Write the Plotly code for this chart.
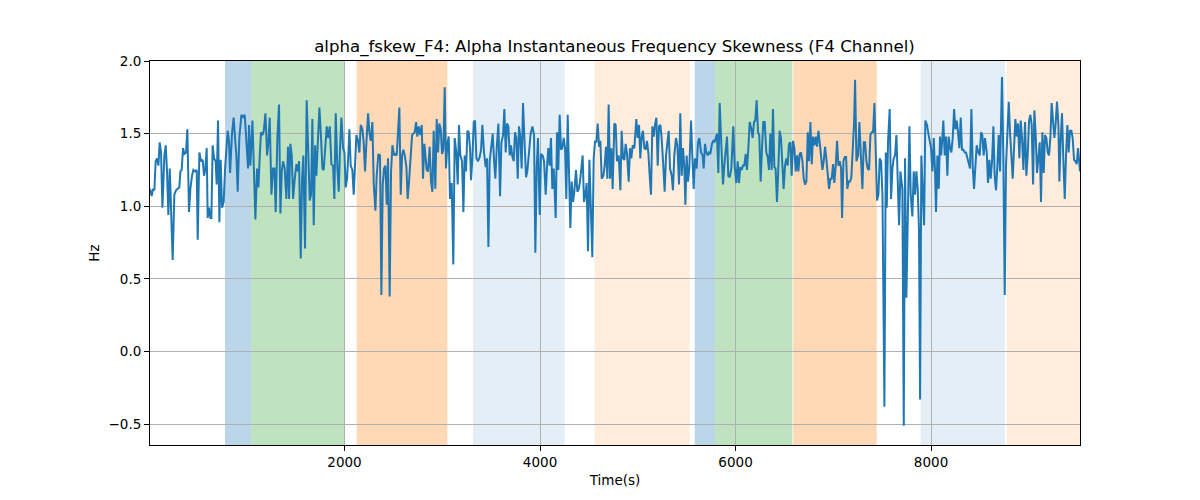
import plotly.graph_objects as go

# ---- data: (time in s, alpha instantaneous frequency skewness in Hz) ----
seg1 = [(10,1.12),(27,1.07),(41,1.12),(55,1.11),(68,1.31),(82,1.33),(96,1.28),(109,1.44),(123,1.37),(137,0.99),
        (157,1.35),(171,1.42),(184,1.24),(198,0.94),(212,1.26),(225,1.01),(242,0.63),(259,1.08),(276,1.11),(293,1.12),
        (310,1.13),(321,1.24),(334,1.25),(348,1.40),(362,1.36),(379,1.37),(392,1.53),(409,0.96),(423,1.12),(440,1.21),
        (454,1.25),(471,1.24),(488,1.25),(498,0.77),(515,1.37),(532,1.31),(549,1.32),(563,1.21),(576,1.26),(590,1.40),
        (600,0.92),(614,0.99),(628,0.92),(638,0.92),(651,1.42),(665,1.33),(682,1.31),(692,1.15),(706,1.59),(720,0.89),
        (733,1.32),(747,0.99),(764,1.03),(778,1.26),(791,1.42),(805,1.52),(819,1.44),(829,1.23),(849,1.50),(866,1.61),
        (880,1.47),(894,1.35),(907,1.10),(924,1.47)]
seg2 = [(945,1.63),(962,1.61),(979,1.63),(996,1.47),(1013,1.26),(1023,1.56),(1037,1.28),(1058,1.59),(1071,1.28),(1088,0.91),
        (1105,1.26),(1119,1.13),(1133,1.35),(1146,1.51),(1160,1.49),(1174,1.52),(1191,1.64),(1208,1.35),(1221,1.44),(1235,1.61),
        (1252,1.08),(1269,1.26),(1283,1.26),(1296,0.96),(1313,1.47),(1330,1.70),(1344,0.95),(1358,1.24),(1371,1.31),(1388,1.26),
        (1405,1.05),(1422,1.41),(1433,1.05),(1446,1.43),(1460,1.35),(1474,1.05),(1491,1.19),(1508,1.29),(1521,1.24),(1535,1.31),
        (1552,0.64),(1566,1.19),(1579,1.35),(1596,0.71),(1613,1.73),(1627,1.35),(1644,1.04),(1658,1.08),(1671,1.60),(1685,0.87),
        (1699,1.42),(1712,1.21),(1726,1.42),(1743,1.68),(1760,1.47),(1774,1.26),(1787,1.25),(1801,1.40),(1818,1.55),(1832,1.47),
        (1849,1.55),(1866,1.29),(1883,1.28)]
seg3 = [(1896,1.05),(1910,1.64),(1927,1.26),(1941,1.10),(1954,1.40),(1968,1.61),(1985,1.40),(1999,1.37),(2012,1.13),(2026,1.19),
        (2040,1.37),(2050,1.53),(2063,1.28),(2080,1.25),(2094,1.08),(2108,1.35),(2121,1.49),(2138,1.45),(2152,1.37),(2166,1.56),
        (2183,1.53),(2196,1.44),(2210,1.24),(2224,1.44),(2241,1.64),(2254,1.51),(2268,1.45),(2285,1.58),(2299,1.15),(2316,0.97),
        (2329,1.21),(2346,1.36),(2363,1.35),(2377,0.39),(2391,1.15),(2404,1.26),(2418,1.28),(2432,1.01),(2445,1.33),(2462,0.38),
        (2476,1.24),(2490,1.42),(2507,1.35),(2520,1.36),(2534,1.35),(2548,1.52),(2561,1.68),(2575,1.08),(2589,1.35),(2602,1.39),
        (2616,1.35),(2633,1.27),(2646,1.05),(2660,1.17),(2674,1.31),(2691,1.49),(2704,1.50),(2718,1.51),(2732,1.58),(2745,1.48),
        (2759,1.55),(2776,1.49),(2790,1.56),(2803,1.19),(2817,1.43)]
seg4 = [(2827,1.35),(2841,1.25),(2854,1.24),(2871,1.41),(2885,1.17),(2899,1.10),(2912,1.52),(2929,1.12),(2943,1.60),(2957,1.37),
        (2970,1.57),(2984,1.53),(2998,1.36),(3011,1.39),(3025,1.82),(3038,1.26),(3052,1.43),(3066,1.48),(3079,1.05),(3096,1.16),
        (3113,0.60),(3127,1.47),(3144,1.37),(3158,1.15),(3171,1.56),(3185,1.35),(3202,1.31),(3216,0.96),(3229,1.35),(3243,1.24),
        (3257,1.52),(3270,1.51),(3284,1.40),(3294,1.18),(3308,1.33),(3322,1.58),(3335,1.59),(3349,1.33),(3366,1.31),(3383,1.34),
        (3397,1.39),(3410,1.56),(3427,1.37),(3444,1.27),(3458,1.33),(3472,0.72),(3485,1.31),(3502,1.40),(3516,1.50),(3530,1.31),
        (3543,1.19),(3557,1.40),(3574,1.57),(3591,1.07),(3605,1.44),(3622,1.49),(3635,1.67),(3649,1.37),(3663,1.57),(3676,1.55),
        (3690,1.35),(3703,1.42),(3717,1.34),(3731,1.31),(3744,1.51),(3758,1.47),(3772,1.19)]
seg5 = [(3785,1.55),(3799,1.47),(3812,1.26),(3826,1.71),(3840,1.47),(3857,1.20),(3870,1.24),(3887,1.37),(3904,1.50),(3922,1.55),
        (3939,1.49),(3952,0.68),(3966,1.26),(3979,1.47),(3997,0.94),(4010,1.36),(4027,1.35),(4041,1.31),(4058,1.08),(4072,1.28),
        (4085,1.40),(4099,1.28),(4112,1.47),(4126,1.12),(4140,1.26),(4150,1.10),(4160,0.92),(4174,1.51),(4187,1.25),(4201,1.63),
        (4215,1.39),(4228,1.40),(4242,1.47),(4256,1.40),(4269,1.05),(4283,1.63),(4297,1.17),(4310,0.85),(4324,1.17),(4338,1.03),
        (4351,1.10),(4368,1.25),(4382,1.10),(4396,1.12),(4409,1.17),(4423,1.26),(4436,1.35),(4450,1.03),(4464,1.08),(4477,1.16),
        (4491,0.69),(4505,1.32),(4518,1.01),(4535,0.65),(4549,1.33),(4563,1.45),(4576,1.44),(4590,1.57),(4604,1.41),(4617,1.45),
        (4631,1.19),(4648,1.21),(4661,1.28),(4675,1.41),(4689,1.19),(4702,1.70)]
seg6 = [(4716,1.19),(4730,1.40),(4743,1.12),(4760,1.57),(4774,1.56),(4787,1.31),(4805,1.35),(4822,1.11),(4835,1.52),(4849,1.33),
        (4863,1.32),(4876,1.43),(4890,1.36),(4907,1.17),(4920,1.40),(4934,1.33),(4948,1.42),(4965,1.40),(4985,1.60),(4999,1.47),
        (5013,1.56),(5026,1.33),(5040,1.48),(5053,1.52),(5067,1.40),(5081,1.39),(5094,1.45),(5108,1.37),(5122,1.21),(5135,1.08),
        (5149,1.55),(5163,1.48),(5176,1.56),(5190,1.61),(5204,1.28),(5217,1.55),(5231,1.56),(5244,1.47),(5261,1.28),(5275,1.10),
        (5289,1.35),(5302,1.42),(5316,1.52),(5330,1.26),(5347,1.21),(5360,1.11),(5374,1.35),(5391,1.47),(5405,1.42),(5422,1.15),
        (5435,1.64),(5449,1.21),(5463,1.40),(5476,1.27),(5487,1.01),(5500,1.35),(5514,1.17),(5527,1.26),(5545,1.59),(5558,1.35),
        (5572,1.12),(5585,1.33),(5602,1.26),(5616,1.44),(5630,1.47),(5647,1.37)]
seg7 = [(5664,1.35),(5674,1.26),(5688,1.43),(5701,1.37),(5715,1.35),(5728,1.37),(5742,1.36),(5759,1.43),(5773,1.45),(5786,1.44),
        (5797,1.48),(5810,1.50),(5824,1.23),(5838,1.71),(5855,1.42),(5872,1.15),(5885,1.28),(5899,1.40),(5913,1.48),(5926,1.21),
        (5940,1.20),(5957,1.26),(5977,1.55),(5991,1.28),(6008,1.16),(6022,1.31),(6035,1.16),(6049,1.27),(6063,1.25),(6076,1.28),
        (6090,1.28),(6104,1.36),(6117,1.25),(6131,1.40),(6145,1.58),(6162,1.53),(6175,1.47),(6189,1.58),(6202,1.59),(6216,1.73),
        (6230,1.51),(6243,1.49),(6257,1.17),(6271,1.40),(6284,1.58),(6298,1.58),(6315,1.37),(6329,1.34),(6342,1.25),(6356,1.50),
        (6370,1.25),(6383,1.67),(6397,1.27),(6410,1.26),(6424,1.03),(6438,1.26),(6451,1.52),(6465,1.47),(6479,1.24),(6492,1.12),
        (6506,1.28),(6520,1.33),(6533,1.28),(6547,1.43),(6561,1.44),(6574,1.21),(6588,1.45)]
seg8 = [(6602,1.40),(6616,1.24),(6630,1.35),(6643,1.24),(6657,1.36),(6670,1.37),(6684,1.31),(6698,1.19),(6711,1.15),(6725,1.17),
        (6739,1.51),(6752,1.31),(6766,1.58),(6780,1.29),(6793,1.48),(6807,1.42),(6821,1.48),(6834,1.41),(6848,1.52),(6861,1.44),
        (6875,1.33),(6889,1.25),(6902,1.31),(6916,1.41),(6930,1.32),(6943,1.19),(6957,1.12),(6971,1.19),(6984,1.19),(6998,1.29),
        (7011,1.16),(7025,1.28),(7039,1.45),(7052,1.28),(7066,1.31),(7080,1.26),(7090,0.92),(7104,1.31),(7117,1.34),(7131,1.34),
        (7144,1.12),(7158,1.17),(7172,1.17),(7185,1.20),(7199,1.35),(7213,1.58),(7223,1.87),(7237,1.31),(7254,1.35),(7267,1.58),
        (7281,1.37),(7298,1.12),(7312,1.44),(7325,1.44),(7339,1.31),(7352,1.26),(7366,1.25),(7380,1.49),(7393,1.51),(7407,1.51),
        (7421,1.71),(7434,1.28),(7448,1.04),(7462,1.08),(7475,1.33),(7489,1.31),(7503,1.08),(7523,-0.38),(7537,1.37)]
seg9 = [(7547,0.99),(7560,1.44),(7577,1.67),(7591,1.05),(7605,1.26),(7618,1.33),(7632,1.35),(7646,1.49),(7659,1.19),(7673,0.87),
        (7687,1.24),(7700,1.17),(7707,1.12),(7721,-0.51),(7734,1.33),(7748,0.37),(7762,1.01),(7779,1.55),(7792,1.08),(7809,0.93),
        (7823,1.24),(7837,1.08),(7850,1.24),(7864,1.12),(7877,0.83),(7888,-0.33),(7901,1.35),(7915,1.12),(7929,0.87),(7942,1.59),
        (7959,1.56),(7973,1.50),(7987,1.44),(8000,1.40),(8014,1.24),(8028,1.47),(8041,1.24),(8051,0.96),(8065,1.35),(8079,1.12),
        (8092,1.48),(8103,1.35),(8116,1.47),(8126,1.59),(8140,1.35),(8154,1.48),(8167,1.21),(8181,1.48),(8195,1.40),(8208,1.37),
        (8222,1.47),(8236,1.67),(8249,1.53),(8263,1.59),(8276,1.51),(8290,1.40),(8304,1.61),(8317,1.39),(8331,1.39),(8345,1.37),
        (8358,1.37),(8372,1.33),(8386,1.31),(8399,1.26),(8413,1.67),(8426,1.28),(8440,1.12),(8454,1.28),(8467,1.42)]
seg10 = [(8484,1.37),(8498,1.35),(8512,1.51),(8525,1.49),(8539,1.35),(8552,1.47),(8570,1.37),(8583,1.16),(8597,1.32),(8610,1.19),
         (8624,1.31),(8638,1.55),(8651,1.21),(8665,1.11),(8679,1.28),(8692,1.49),(8706,1.24),(8716,1.49),(8726,1.89),(8740,1.33),
         (8754,0.39),(8767,1.28),(8781,1.47),(8795,1.72),(8808,1.51),(8822,1.35),(8836,1.19),(8849,1.40),(8863,1.60),(8876,1.48),
         (8890,1.57),(8904,1.33),(8917,1.59),(8931,1.47),(8945,1.25),(8962,1.58),(8975,1.21),(8989,1.35),(9003,1.59),(9016,1.63),
         (9030,1.56),(9044,1.15),(9057,1.66),(9071,1.49),(9084,1.23),(9098,1.33),(9112,1.44),(9125,1.03),(9139,1.51),(9153,1.23),
         (9166,1.49),(9180,1.47),(9194,1.37),(9207,1.35),(9221,1.47),(9234,1.71),(9248,1.56),(9262,1.47),(9275,1.57),(9289,1.72),
         (9303,1.56),(9313,1.17),(9327,1.47),(9340,1.64),(9354,1.31),(9368,1.05),(9381,1.35),(9395,1.56),(9408,1.37),(9422,1.52),
         (9436,1.52),(9449,1.47),(9463,1.32),(9477,1.31),(9490,1.29),(9504,1.40),(9524,1.24)]

# shaded intervals (s)
band_starts = [777, 1047, 2124, 3314, 4559, 5582, 5790, 6590, 7894, 8774]
band_ends   = [1047, 1995, 3052, 4252, 5531, 5790, 6582, 7444, 8757, 9530]
band_colors = ["rgba(31,119,180,0.3)", "rgba(44,160,44,0.3)", "rgba(255,127,14,0.3)",
               "rgba(31,119,180,0.12)", "rgba(255,127,14,0.15)",
               "rgba(31,119,180,0.3)", "rgba(44,160,44,0.3)", "rgba(255,127,14,0.3)",
               "rgba(31,119,180,0.12)", "rgba(255,127,14,0.15)"]

x_range = [10, 9524]
y_range = [-0.643, 2.0]
y_ticks = [-0.5, 0.0, 0.5, 1.0, 1.5, 2.0]
y_ticktext = ["\u22120.5", "0.0", "0.5", "1.0", "1.5", "2.0"]
x_ticks = [2000, 4000, 6000, 8000]

samples = seg1 + seg2 + seg3 + seg4 + seg5 + seg6 + seg7 + seg8 + seg9 + seg10
time_s = [p[0] for p in samples]
hz = [p[1] for p in samples]

fig = go.Figure()
fig.add_trace(go.Scatter(x=time_s, y=hz, mode="lines",
                         line=dict(color="#1f77b4", width=2), showlegend=False))

shapes = []
for s, e, c in zip(band_starts, band_ends, band_colors):
    shapes.append(dict(type="rect", xref="x", yref="paper", x0=s, x1=e, y0=0, y1=1,
                       fillcolor=c, line=dict(width=0), layer="below"))

font_family = "DejaVu Sans"
W, H = 1192, 492   # page body has an 8px margin in the browser
fig.update_layout(
    width=W, height=H,
    margin=dict(l=142, r=120, t=53, b=55),
    paper_bgcolor="white", plot_bgcolor="white",
    shapes=shapes,
    font=dict(family=font_family, size=14, color="black"),
    title=dict(text="alpha_fskew_F4: Alpha Instantaneous Frequency Skewness (F4 Channel)",
               x=(614.5 - 8) / W, xanchor="center", y=1 - 38 / H, yanchor="middle", yref="container",
               font=dict(family=font_family, size=16.6, color="black")),
    xaxis=dict(range=x_range, tickvals=x_ticks, showgrid=True, gridcolor="#b0b0b0", gridwidth=1,
               showline=True, linecolor="black", linewidth=1, mirror=True,
               ticks="outside", ticklen=5, tickcolor="black", zeroline=False,
               tickfont=dict(size=13.5),
               title=dict(text="Time(s)", standoff=6, font=dict(size=13.5))),
    yaxis=dict(range=y_range, tickvals=y_ticks, ticktext=y_ticktext, showgrid=True,
               gridcolor="#b0b0b0", gridwidth=1,
               showline=True, linecolor="black", linewidth=1, mirror=True,
               ticks="outside", ticklen=5, tickcolor="black", zeroline=False,
               tickfont=dict(size=13.5),
               title=dict(text="Hz", standoff=5, font=dict(size=13.5))),
)

fig.write_html("out.html")
